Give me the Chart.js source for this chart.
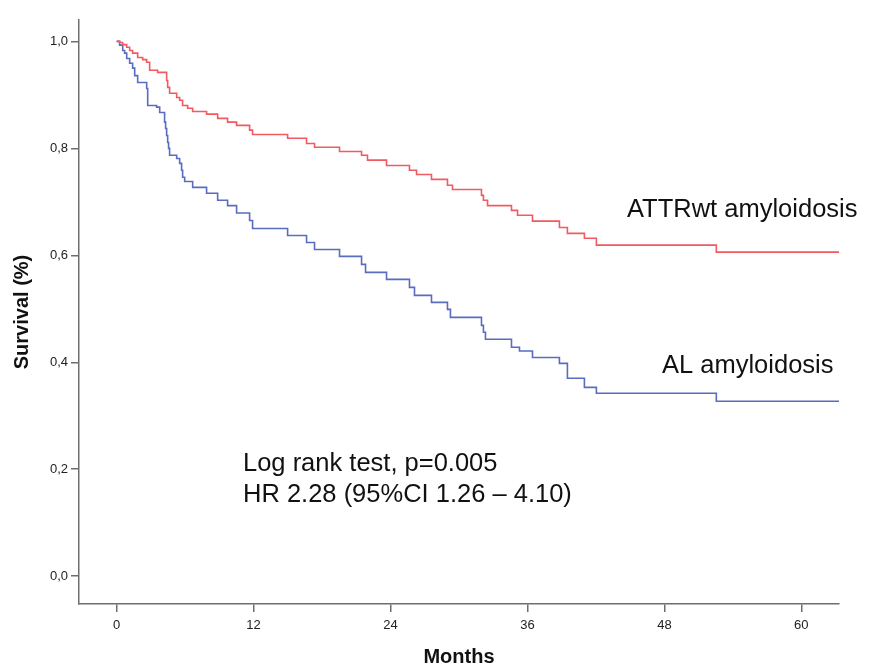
<!DOCTYPE html>
<html>
<head>
<meta charset="utf-8">
<title>Survival</title>
<script src="https://cdn.jsdelivr.net/npm/chart.js@4.4.1/dist/chart.umd.min.js"></script>
<style>
    html, body { margin: 0; padding: 0; background: #fff; }
    #wrap { width: 871px; height: 670px; }
</style>
</head>
<body>
<div id="wrap"><canvas id="survivalChart" width="871" height="670"></canvas></div>
<script>
// Kaplan-Meier data (months, survival)
const attrMonths = [0, 0.26, 0.53, 0.88, 1.14, 1.40, 1.84, 2.28, 2.63, 2.89, 3.59, 4.38, 4.47, 4.64, 5.26, 5.52, 5.78, 6.22, 6.66, 7.88, 8.85, 9.72, 10.51, 11.65, 11.91, 14.98, 16.64, 17.34, 19.53, 21.46, 21.98, 23.65, 25.66, 26.28, 27.59, 28.99, 29.43, 31.97, 32.14, 32.50, 34.60, 35.13, 36.44, 38.80, 39.50, 40.99, 42.04, 52.55, 63.3];
const attrSurvival = [1.000, 0.998, 0.994, 0.989, 0.983, 0.978, 0.970, 0.966, 0.961, 0.946, 0.942, 0.927, 0.914, 0.903, 0.895, 0.890, 0.880, 0.875, 0.869, 0.864, 0.856, 0.849, 0.843, 0.834, 0.826, 0.819, 0.809, 0.802, 0.794, 0.787, 0.778, 0.768, 0.759, 0.751, 0.742, 0.731, 0.723, 0.712, 0.703, 0.693, 0.684, 0.675, 0.664, 0.652, 0.641, 0.632, 0.619, 0.606, 0.606];

const alMonths = [0, 0.26, 0.53, 0.70, 0.88, 1.14, 1.40, 1.58, 1.84, 2.63, 2.72, 3.50, 3.77, 4.20, 4.29, 4.38, 4.47, 4.55, 4.64, 5.26, 5.52, 5.69, 5.78, 5.96, 6.66, 7.88, 8.85, 9.72, 10.51, 11.65, 11.91, 14.98, 16.64, 17.34, 19.53, 21.46, 21.81, 23.65, 25.66, 26.10, 27.59, 28.99, 29.25, 31.97, 32.14, 32.32, 34.60, 35.30, 36.44, 38.80, 39.50, 40.99, 42.04, 52.55, 63.3];
const alSurvival = [1.000, 0.993, 0.983, 0.978, 0.968, 0.959, 0.950, 0.936, 0.923, 0.912, 0.880, 0.877, 0.867, 0.849, 0.837, 0.824, 0.811, 0.800, 0.787, 0.781, 0.772, 0.759, 0.746, 0.738, 0.727, 0.716, 0.703, 0.693, 0.679, 0.665, 0.650, 0.637, 0.624, 0.611, 0.598, 0.583, 0.568, 0.555, 0.540, 0.525, 0.512, 0.499, 0.484, 0.469, 0.456, 0.443, 0.428, 0.421, 0.409, 0.398, 0.370, 0.353, 0.342, 0.327, 0.327];

const xTicks = [0, 12, 24, 36, 48, 60];
const yTicks = [0, 0.2, 0.4, 0.6, 0.8, 1.0];

const axisColor = '#6e6e6e';
const tickFont = { family: "'Liberation Sans Narrow', 'Liberation Sans', Arial, sans-serif", size: 13 };
const titleFont = { family: "'Liberation Sans', Arial, sans-serif", size: 20, weight: 'bold' };

function toPoints(months, values) {
    return months.map((m, i) => ({ x: m, y: values[i] }));
}

// Text labels on the plot
const labelPlugin = {
    id: 'labels',
    afterDraw(chart) {
        const ctx = chart.ctx;
        ctx.save();
        ctx.fillStyle = '#111';
        ctx.font = "25.5px 'Liberation Sans', Arial, sans-serif";
        ctx.textBaseline = 'alphabetic';
        ctx.fillText('ATTRwt amyloidosis', 627, 217);
        ctx.fillText('AL amyloidosis', 662, 373);
        ctx.fillText('Log rank test, p=0.005', 243, 471);
        ctx.fillText('HR 2.28 (95%CI 1.26 \u2013 4.10)', 243, 502);
        ctx.restore();
    }
};

const ctx = document.getElementById('survivalChart').getContext('2d');
new Chart(ctx, {
    type: 'line',
    data: {
        datasets: [
            {
                label: 'ATTRwt amyloidosis',
                data: toPoints(attrMonths, attrSurvival),
                borderColor: 'rgb(240, 90, 96)',
                borderWidth: 1.6,
                pointRadius: 0,
                stepped: 'before',
                fill: false
            },
            {
                label: 'AL amyloidosis',
                data: toPoints(alMonths, alSurvival),
                borderColor: 'rgb(88, 108, 192)',
                borderWidth: 1.6,
                pointRadius: 0,
                stepped: 'before',
                fill: false
            }
        ]
    },
    options: {
        responsive: false,
        animation: false,
        layout: { padding: { left: 0, right: 32, top: 20, bottom: 0 } },
        plugins: {
            legend: { display: false },
            tooltip: { enabled: false }
        },
        scales: {
            x: {
                type: 'linear',
                min: -3.3,
                max: 63.3,
                afterBuildTicks: scale => { scale.ticks = xTicks.map(v => ({ value: v })); },
                afterFit: scale => { scale.height = 66; },
                grid: { drawOnChartArea: false, drawTicks: true, tickLength: 8, color: axisColor, lineWidth: 1.5 },
                border: { display: true, color: axisColor, width: 1.5 },
                ticks: { color: '#222', font: tickFont, padding: 6, maxRotation: 0 },
                title: { display: true, text: 'Months', color: '#111', font: titleFont, padding: { top: 0, bottom: 1 } }
            },
            y: {
                type: 'linear',
                min: -0.052,
                max: 1.04,
                afterBuildTicks: scale => { scale.ticks = yTicks.map(v => ({ value: v })); },
                afterFit: scale => { scale.width = 79; },
                grid: { drawOnChartArea: false, drawTicks: true, tickLength: 8, color: axisColor, lineWidth: 1.5 },
                border: { display: true, color: axisColor, width: 1.5 },
                ticks: {
                    color: '#222',
                    font: tickFont,
                    padding: 3,
                    callback: v => v.toFixed(1).replace('.', ',')
                },
                title: { display: true, text: 'Survival (%)', color: '#111', font: titleFont, padding: { top: 10, bottom: 0 } }
            }
        }
    },
    plugins: [labelPlugin]
});
</script>
</body>
</html>
